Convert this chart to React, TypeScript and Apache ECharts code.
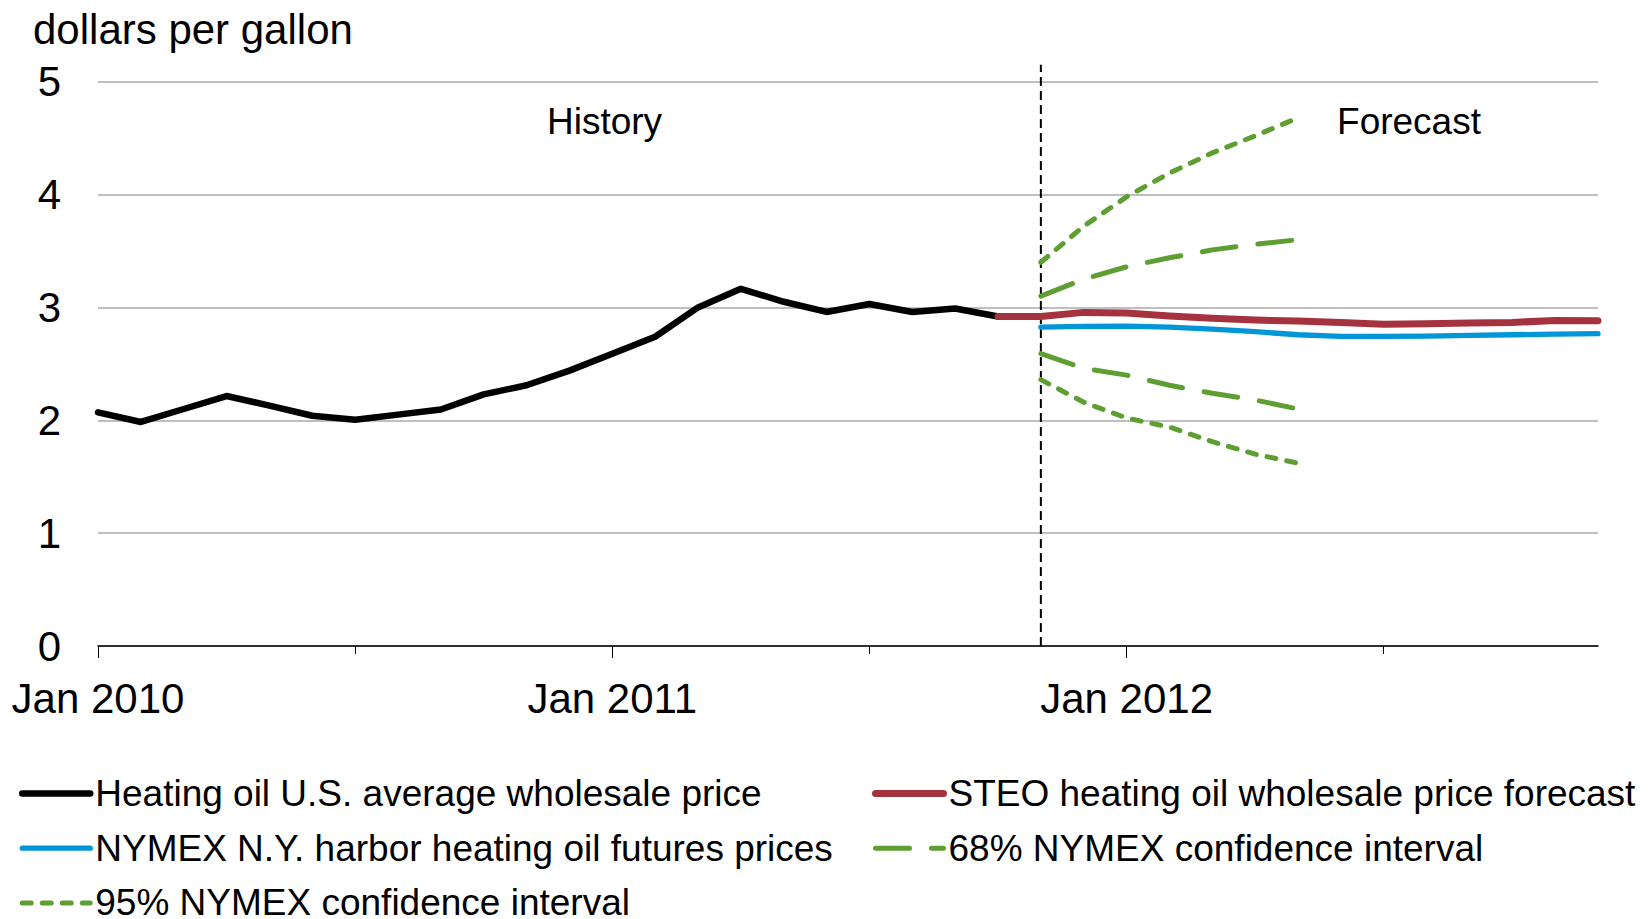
import React, { useEffect, useRef } from 'react';
import * as echarts from 'echarts';

const months = [
  'Jan 2010', 'Feb 2010', 'Mar 2010', 'Apr 2010', 'May 2010', 'Jun 2010',
  'Jul 2010', 'Aug 2010', 'Sep 2010', 'Oct 2010', 'Nov 2010', 'Dec 2010',
  'Jan 2011', 'Feb 2011', 'Mar 2011', 'Apr 2011', 'May 2011', 'Jun 2011',
  'Jul 2011', 'Aug 2011', 'Sep 2011', 'Oct 2011', 'Nov 2011', 'Dec 2011',
  'Jan 2012', 'Feb 2012', 'Mar 2012', 'Apr 2012', 'May 2012', 'Jun 2012',
  'Jul 2012', 'Aug 2012', 'Sep 2012', 'Oct 2012', 'Nov 2012', 'Dec 2012',
];

const historyStart = 'Jan 2010';
const historyValues = [
  2.07, 1.985, 2.10, 2.215, 2.13, 2.04, 2.005, 2.05, 2.095, 2.23, 2.31, 2.44,
  2.59, 2.74, 3.00, 3.165, 3.05, 2.96, 3.03, 2.96, 2.99, 2.92,
];

const steoStart = 'Oct 2011';
const steoValues = [
  2.92, 2.92, 2.956, 2.95, 2.923, 2.903, 2.888, 2.879, 2.867, 2.85, 2.855,
  2.861, 2.867, 2.885, 2.882,
];

const nymexStart = 'Nov 2011';
const nymexValues = [
  2.826, 2.832, 2.835, 2.826, 2.808, 2.785, 2.758, 2.743, 2.743, 2.746, 2.752,
  2.758, 2.764, 2.767,
];

const ciStart = 'Nov 2011';
const ci68Upper = [3.10, 3.25, 3.36, 3.44, 3.51, 3.56, 3.60];
const ci68Lower = [2.59, 2.46, 2.40, 2.31, 2.24, 2.18, 2.10];
const ci95Upper = [3.40, 3.72, 3.98, 4.19, 4.37, 4.52, 4.68];
const ci95Lower = [2.36, 2.16, 2.02, 1.94, 1.81, 1.70, 1.62];

const dividerMonth = 'Nov 2011';
const dividerRange = [0, 5.15];

const yMin = 0;
const yMax = 5;
const yInterval = 1;

const NAME_HIST = 'Heating oil U.S. average wholesale price';
const NAME_STEO = 'STEO heating oil wholesale price forecast';
const NAME_NYMEX = 'NYMEX N.Y. harbor heating oil futures prices';
const NAME_68 = '68% NYMEX confidence interval';
const NAME_95 = '95% NYMEX confidence interval';

const FONT = '"Liberation Sans", Arial, Helvetica, sans-serif';

const BLACK = '#000000';
const RED = '#A5323F';
const BLUE = '#0096D7';
const GREEN = '#5E9E32';

const W_HIST = 6.5;
const W_STEO = 7;
const W_NYMEX = 5.3;
const W_CI = 5;

function toPairs(start: string, values: number[]) {
  const i0 = months.indexOf(start);
  return values.map((v, i) => [months[i0 + i], v]);
}

function lineSeries(name: string, data: any[], color: string, width: number, type: any, z: number) {
  return {
    name,
    type: 'line',
    data,
    symbol: 'none',
    showSymbol: false,
    z,
    itemStyle: { color },
    lineStyle: { color, width, type, cap: 'round', join: 'round' },
    emphasis: { disabled: true },
  };
}

const hiddenSymbol = { color: 'rgba(0,0,0,0)', borderColor: 'rgba(0,0,0,0)', borderWidth: 0 };

function legendItem(name: string, width: number) {
  return { name, itemStyle: hiddenSymbol, lineStyle: { width, cap: 'round' } };
}

export default function App() {
  const ref = useRef<HTMLDivElement>(null);

  useEffect(() => {
    if (!ref.current) return;
    const chart = echarts.init(ref.current, null, { renderer: 'svg' });

    const legendText = { fontSize: 37, lineHeight: 40, color: '#000', fontFamily: FONT };

    const option: any = {
      animation: false,
      backgroundColor: '#ffffff',
      textStyle: { fontFamily: FONT },
      grid: { left: 98, right: 54, top: 81.7, bottom: 273 },
      legend: [
        {
          data: [legendItem(NAME_HIST, W_HIST), legendItem(NAME_NYMEX, W_NYMEX), legendItem(NAME_95, W_CI)],
          orient: 'vertical',
          left: 19,
          top: 773.5,
          height: 200,
          padding: 0,
          itemWidth: 68,
          itemHeight: 4,
          itemGap: 14.7,
          selectedMode: false,
          textStyle: legendText,
        },
        {
          data: [legendItem(NAME_STEO, W_STEO), legendItem(NAME_68, W_CI)],
          orient: 'vertical',
          left: 872,
          top: 773.5,
          height: 200,
          padding: 0,
          itemWidth: 68,
          itemHeight: 4,
          itemGap: 14.7,
          selectedMode: false,
          textStyle: legendText,
        },
      ],
      xAxis: [
        {
          type: 'category',
          data: months,
          boundaryGap: false,
          position: 'bottom',
          axisLine: { show: true, lineStyle: { color: '#000', width: 1.5 } },
          axisTick: { show: true, interval: 11, length: 12, lineStyle: { color: '#000', width: 1 } },
          axisLabel: { show: true, interval: 11, fontSize: 42, margin: 31, color: '#000', fontFamily: FONT },
          splitLine: { show: false },
        },
        {
          type: 'category',
          data: months,
          boundaryGap: false,
          position: 'bottom',
          axisLine: { show: false },
          axisTick: { show: true, interval: 5, length: 8, lineStyle: { color: '#000', width: 1 } },
          axisLabel: { show: false },
          splitLine: { show: false },
        },
      ],
      yAxis: {
        type: 'value',
        min: yMin,
        max: yMax,
        interval: yInterval,
        axisLine: { show: false },
        axisTick: { show: false },
        axisLabel: { fontSize: 42, margin: 37, color: '#000', fontFamily: FONT },
        splitLine: { show: true, lineStyle: { color: '#BFBFBF', width: 2 } },
      },
      graphic: [
        {
          type: 'text',
          left: 33,
          top: 8,
          style: { text: 'dollars per gallon', fontSize: 42, fill: '#000', fontFamily: FONT },
        },
        {
          type: 'text',
          x: 604.5,
          y: 121,
          style: { text: 'History', fontSize: 37, fill: '#000', fontFamily: FONT, align: 'center', verticalAlign: 'middle' },
        },
        {
          type: 'text',
          x: 1409,
          y: 121,
          style: { text: 'Forecast', fontSize: 37, fill: '#000', fontFamily: FONT, align: 'center', verticalAlign: 'middle' },
        },
      ],
      series: [
        {
          type: 'custom',
          name: 'divider',
          xAxisIndex: 0,
          data: [[dividerMonth, dividerRange[0], dividerRange[1]]],
          encode: { x: 0, y: [1, 2] },
          clip: false,
          z: 1,
          silent: true,
          renderItem: (params: any, api: any) => {
            const x = api.value(0);
            const p0 = api.coord([x, api.value(1)]);
            const p1 = api.coord([x, api.value(2)]);
            return {
              type: 'line',
              shape: { x1: p0[0], y1: p0[1], x2: p1[0], y2: p1[1] },
              style: { stroke: '#000', lineWidth: 2, lineDash: [9, 5] },
            };
          },
        },
        lineSeries(NAME_HIST, toPairs(historyStart, historyValues), BLACK, W_HIST, 'solid', 3),
        lineSeries(NAME_STEO, toPairs(steoStart, steoValues), RED, W_STEO, 'solid', 4),
        lineSeries(NAME_NYMEX, toPairs(nymexStart, nymexValues), BLUE, W_NYMEX, 'solid', 5),
        lineSeries(NAME_68, toPairs(ciStart, ci68Upper), GREEN, W_CI, [34, 22], 6),
        lineSeries(NAME_68, toPairs(ciStart, ci68Lower), GREEN, W_CI, [34, 22], 6),
        lineSeries(NAME_95, toPairs(ciStart, ci95Upper), GREEN, W_CI, [9, 11], 6),
        lineSeries(NAME_95, toPairs(ciStart, ci95Lower), GREEN, W_CI, [9, 11], 6),
      ],
    };

    chart.setOption(option);
    return () => {
      chart.dispose();
    };
  }, []);

  return (
    <div
      ref={ref}
      style={{ position: 'absolute', left: 0, top: 0, width: 1652, height: 919, background: '#fff' }}
    />
  );
}
